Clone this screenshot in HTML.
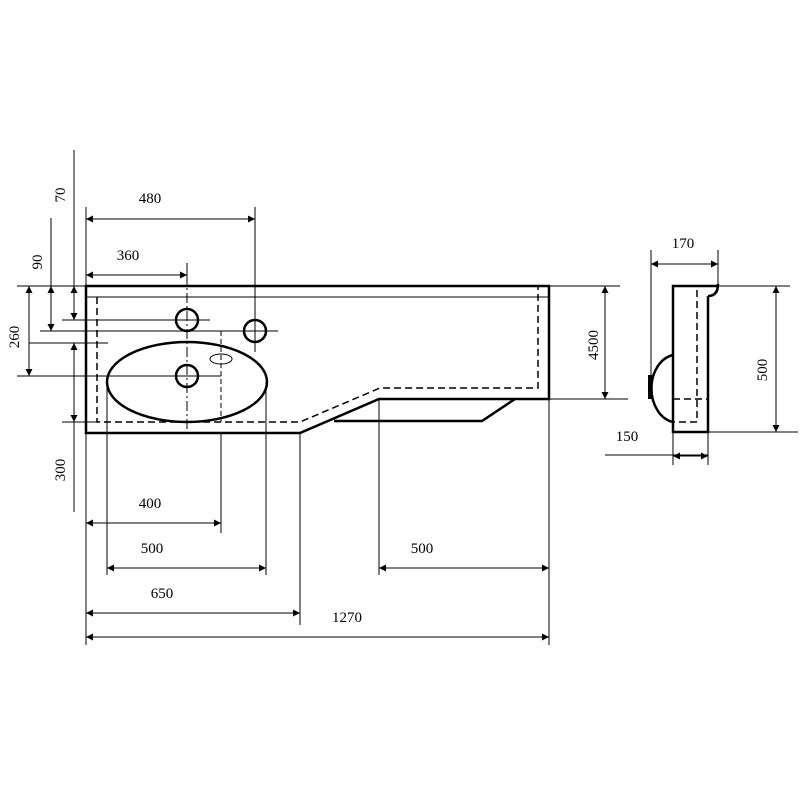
<!DOCTYPE html>
<html><head><style>html,body{margin:0;padding:0;background:#fff}</style></head>
<body>
<svg width="800" height="800" viewBox="0 0 800 800" xmlns="http://www.w3.org/2000/svg" font-family="Liberation Serif, serif" font-size="15" fill="#000">
<defs>
<marker id="a" viewBox="0 0 10 10" refX="10" refY="5" markerWidth="11" markerHeight="7" orient="auto-start-reverse" markerUnits="userSpaceOnUse"><path d="M0,0 L10,5 L0,10 z"/></marker>
</defs>
<g stroke="#000" stroke-width="1" fill="none">
<line x1="86" y1="207" x2="86" y2="645"/>
<line x1="74" y1="150" x2="74" y2="286"/>
<line x1="51" y1="218" x2="51" y2="286"/>
<line x1="74" y1="422" x2="74" y2="512"/>
<line x1="17" y1="286" x2="86" y2="286"/>
<line x1="62" y1="320" x2="210" y2="320"/>
<line x1="40" y1="331" x2="278" y2="331"/>
<line x1="29" y1="343" x2="108" y2="343"/>
<line x1="17" y1="376" x2="221" y2="376"/>
<line x1="62" y1="422" x2="97" y2="422"/>
<line x1="255" y1="207" x2="255" y2="352"/>
<line x1="187" y1="263" x2="187" y2="275"/>
<line x1="107" y1="382" x2="107" y2="575"/>
<line x1="266" y1="382" x2="266" y2="575"/>
<line x1="221" y1="433" x2="221" y2="533"/>
<line x1="300" y1="433" x2="300" y2="625"/>
<line x1="379" y1="399" x2="379" y2="575"/>
<line x1="549" y1="399" x2="549" y2="645"/>
<line x1="549" y1="286" x2="620" y2="286"/>
<line x1="549" y1="399" x2="628" y2="399"/>
<line x1="86" y1="297" x2="549" y2="297"/>
<line x1="74" y1="286" x2="74" y2="320" marker-start="url(#a)" marker-end="url(#a)"/>
<line x1="51" y1="286" x2="51" y2="331" marker-start="url(#a)" marker-end="url(#a)"/>
<line x1="29" y1="286" x2="29" y2="376" marker-start="url(#a)" marker-end="url(#a)"/>
<line x1="74" y1="343" x2="74" y2="422" marker-start="url(#a)" marker-end="url(#a)"/>
<line x1="86" y1="219" x2="255" y2="219" marker-start="url(#a)" marker-end="url(#a)"/>
<line x1="86" y1="275" x2="187" y2="275" marker-start="url(#a)" marker-end="url(#a)"/>
<line x1="605" y1="286" x2="605" y2="399" marker-start="url(#a)" marker-end="url(#a)"/>
<line x1="86" y1="523" x2="221" y2="523" marker-start="url(#a)" marker-end="url(#a)"/>
<line x1="107" y1="568" x2="266" y2="568" marker-start="url(#a)" marker-end="url(#a)"/>
<line x1="379" y1="568" x2="549" y2="568" marker-start="url(#a)" marker-end="url(#a)"/>
<line x1="86" y1="613" x2="300" y2="613" marker-start="url(#a)" marker-end="url(#a)"/>
<line x1="86" y1="637" x2="549" y2="637" marker-start="url(#a)" marker-end="url(#a)"/>
<line x1="187" y1="275" x2="187" y2="433" stroke-dasharray="10,3,2,3"/>
<line x1="221" y1="331" x2="221" y2="422" stroke-dasharray="5,3"/>
<ellipse cx="221" cy="359" rx="11" ry="5"/>
</g>
<g stroke="#000" stroke-width="2.5" fill="none">
<path d="M86,286 L549,286 L549,399 L379,399 L300,433 L86,433 Z"/>
<path d="M334,421 L482,421 L515,399"/>
<ellipse cx="187" cy="382" rx="80" ry="40"/>
<circle cx="187" cy="320" r="11"/>
<circle cx="255" cy="331" r="11"/>
<circle cx="187" cy="376" r="11"/>
</g>
<path d="M97,297 L97,422 L300,422 L380,388 L538,388 L538,286" stroke="#000" stroke-width="1.5" fill="none" stroke-dasharray="7,4"/>
<g stroke="#000" stroke-width="1" fill="none">
<line x1="651" y1="250" x2="651" y2="398"/>
<line x1="718" y1="250" x2="718" y2="286"/>
<line x1="718" y1="286" x2="790" y2="286"/>
<line x1="708" y1="432" x2="798" y2="432"/>
<line x1="605" y1="455" x2="708" y2="455"/>
<line x1="673" y1="432" x2="673" y2="465"/>
<line x1="708" y1="432" x2="708" y2="465"/>
<line x1="651" y1="264" x2="718" y2="264" marker-start="url(#a)" marker-end="url(#a)"/>
<line x1="776" y1="286" x2="776" y2="432" marker-start="url(#a)" marker-end="url(#a)"/>
<line x1="673" y1="456" x2="708" y2="456" marker-start="url(#a)" marker-end="url(#a)"/>
</g>
<g stroke="#000" stroke-width="2.5" fill="none">
<path d="M708,296 L708,432 L673,432 L673,286 L718,286"/>
<path d="M718,284 Q718,296 708,296"/>
<path d="M673,355 A26,34 0 0 0 673,422"/>
</g>
<rect x="648" y="375" width="4" height="24" fill="#000"/>
<path d="M697,290 L697,422 L673,422 M673,399 L708,399" stroke="#000" stroke-width="1.5" fill="none" stroke-dasharray="7,4"/>
<text x="150" y="203" text-anchor="middle">480</text>
<text x="128" y="260" text-anchor="middle">360</text>
<text x="150" y="508" text-anchor="middle">400</text>
<text x="152" y="553" text-anchor="middle">500</text>
<text x="422" y="553" text-anchor="middle">500</text>
<text x="162" y="598" text-anchor="middle">650</text>
<text x="347" y="622" text-anchor="middle">1270</text>
<text x="683" y="248" text-anchor="middle">170</text>
<text x="627" y="441" text-anchor="middle">150</text>
<text transform="translate(65,195) rotate(-90)" text-anchor="middle">70</text>
<text transform="translate(42,262) rotate(-90)" text-anchor="middle">90</text>
<text transform="translate(19,337) rotate(-90)" text-anchor="middle">260</text>
<text transform="translate(65,470) rotate(-90)" text-anchor="middle">300</text>
<text transform="translate(598,345) rotate(-90)" text-anchor="middle">4500</text>
<text transform="translate(767,370) rotate(-90)" text-anchor="middle">500</text>
</svg>
</body></html>
